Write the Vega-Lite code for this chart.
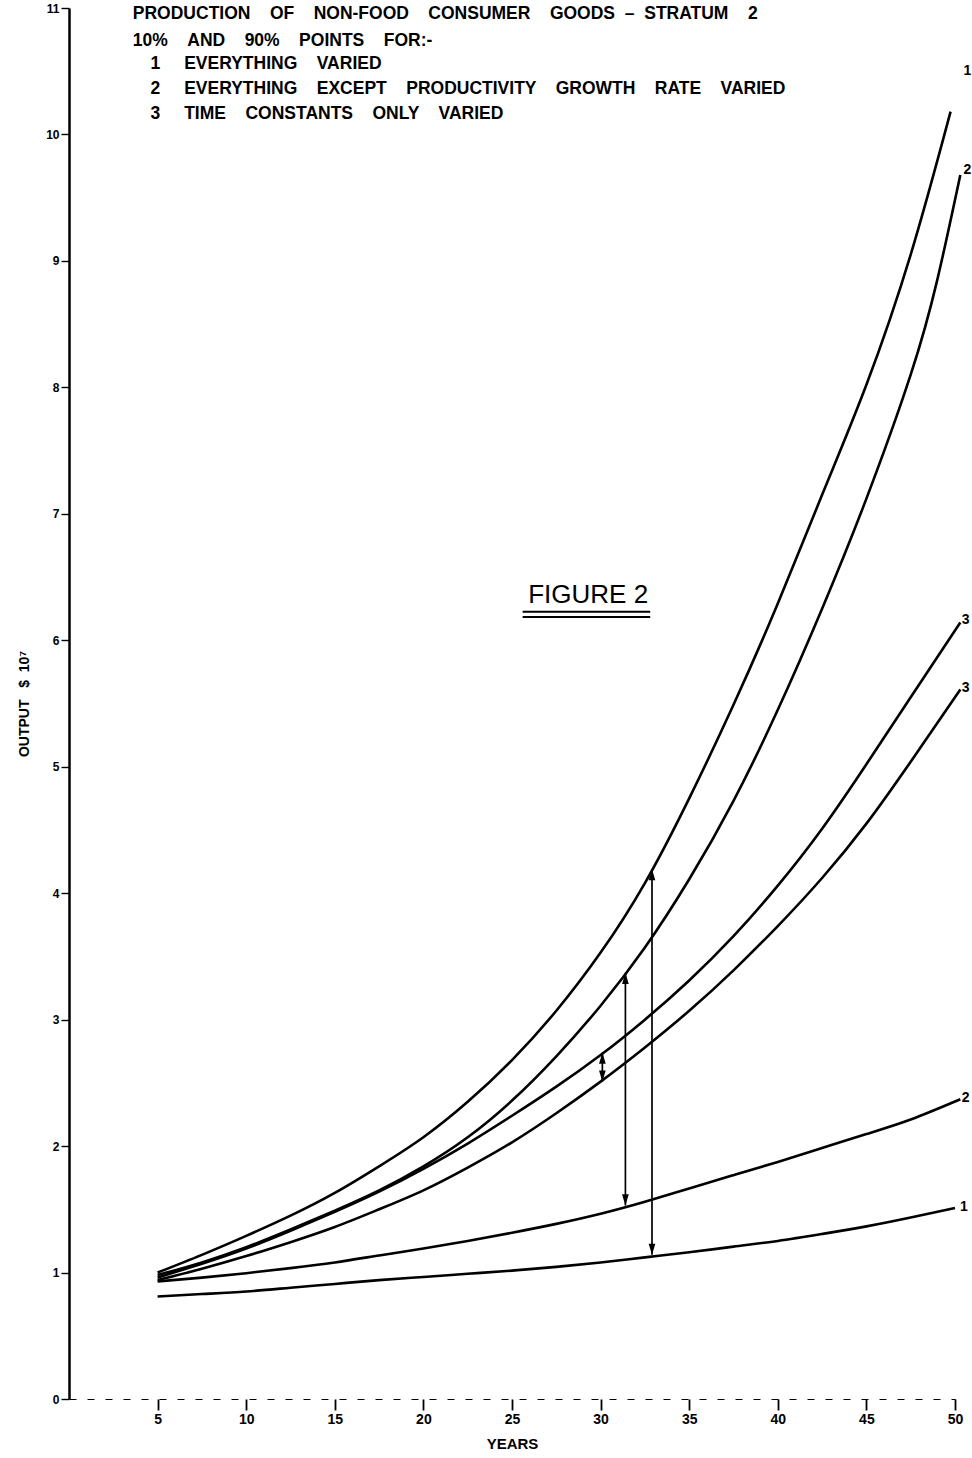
{
  "$schema": "https://vega.github.io/schema/vega-lite/v6.json",
  "width": 886,
  "height": 1391,
  "autosize": {"type": "none"},
  "padding": {"left": 69, "top": 8, "right": 17, "bottom": 59},
  "background": "white",
  "config": {
    "view": {"stroke": null},
    "font": "Liberation Sans",
    "text": {"font": "Liberation Sans"}
  },
  "datasets": {
    "curves": [
      {"series": "U1", "year": 5, "value": 1.0},
      {"series": "U1", "year": 7.5, "value": 1.14},
      {"series": "U1", "year": 10, "value": 1.29},
      {"series": "U1", "year": 12.5, "value": 1.45},
      {"series": "U1", "year": 15, "value": 1.63},
      {"series": "U1", "year": 17.5, "value": 1.84},
      {"series": "U1", "year": 20, "value": 2.07},
      {"series": "U1", "year": 22.5, "value": 2.35},
      {"series": "U1", "year": 25, "value": 2.68},
      {"series": "U1", "year": 27.5, "value": 3.07},
      {"series": "U1", "year": 30, "value": 3.53},
      {"series": "U1", "year": 32.5, "value": 4.08},
      {"series": "U1", "year": 35, "value": 4.75},
      {"series": "U1", "year": 37.5, "value": 5.49},
      {"series": "U1", "year": 40, "value": 6.29},
      {"series": "U1", "year": 42.5, "value": 7.15},
      {"series": "U1", "year": 45, "value": 8.02},
      {"series": "U1", "year": 47.5, "value": 9.05},
      {"series": "U1", "year": 49.75, "value": 10.18},

      {"series": "U2", "year": 5, "value": 0.98},
      {"series": "U2", "year": 7.5, "value": 1.08},
      {"series": "U2", "year": 10, "value": 1.2},
      {"series": "U2", "year": 12.5, "value": 1.34},
      {"series": "U2", "year": 15, "value": 1.49},
      {"series": "U2", "year": 17.5, "value": 1.65},
      {"series": "U2", "year": 20, "value": 1.84},
      {"series": "U2", "year": 22.5, "value": 2.07},
      {"series": "U2", "year": 25, "value": 2.36},
      {"series": "U2", "year": 27.5, "value": 2.71},
      {"series": "U2", "year": 30, "value": 3.11},
      {"series": "U2", "year": 32.5, "value": 3.57},
      {"series": "U2", "year": 35, "value": 4.11},
      {"series": "U2", "year": 37.5, "value": 4.73},
      {"series": "U2", "year": 40, "value": 5.45},
      {"series": "U2", "year": 42.5, "value": 6.25},
      {"series": "U2", "year": 45, "value": 7.12},
      {"series": "U2", "year": 47.5, "value": 8.1},
      {"series": "U2", "year": 49, "value": 8.85},
      {"series": "U2", "year": 50.3, "value": 9.68},

      {"series": "U3", "year": 5, "value": 0.96},
      {"series": "U3", "year": 7.5, "value": 1.07},
      {"series": "U3", "year": 10, "value": 1.19},
      {"series": "U3", "year": 12.5, "value": 1.33},
      {"series": "U3", "year": 15, "value": 1.48},
      {"series": "U3", "year": 17.5, "value": 1.64},
      {"series": "U3", "year": 20, "value": 1.82},
      {"series": "U3", "year": 22.5, "value": 2.02},
      {"series": "U3", "year": 25, "value": 2.24},
      {"series": "U3", "year": 27.5, "value": 2.47},
      {"series": "U3", "year": 30, "value": 2.72},
      {"series": "U3", "year": 32.5, "value": 3.0},
      {"series": "U3", "year": 35, "value": 3.31},
      {"series": "U3", "year": 37.5, "value": 3.66},
      {"series": "U3", "year": 40, "value": 4.06},
      {"series": "U3", "year": 42.5, "value": 4.51},
      {"series": "U3", "year": 45, "value": 5.02},
      {"series": "U3", "year": 47.5, "value": 5.55},
      {"series": "U3", "year": 50.3, "value": 6.14},

      {"series": "L3", "year": 5, "value": 0.94},
      {"series": "L3", "year": 7.5, "value": 1.03},
      {"series": "L3", "year": 10, "value": 1.13},
      {"series": "L3", "year": 12.5, "value": 1.24},
      {"series": "L3", "year": 15, "value": 1.36},
      {"series": "L3", "year": 17.5, "value": 1.5},
      {"series": "L3", "year": 20, "value": 1.65},
      {"series": "L3", "year": 22.5, "value": 1.83},
      {"series": "L3", "year": 25, "value": 2.03},
      {"series": "L3", "year": 27.5, "value": 2.26},
      {"series": "L3", "year": 30, "value": 2.51},
      {"series": "L3", "year": 32.5, "value": 2.78},
      {"series": "L3", "year": 35, "value": 3.07},
      {"series": "L3", "year": 37.5, "value": 3.39},
      {"series": "L3", "year": 40, "value": 3.74},
      {"series": "L3", "year": 42.5, "value": 4.12},
      {"series": "L3", "year": 45, "value": 4.55},
      {"series": "L3", "year": 47.5, "value": 5.04},
      {"series": "L3", "year": 50.3, "value": 5.61},

      {"series": "L2", "year": 5, "value": 0.93},
      {"series": "L2", "year": 7.5, "value": 0.96},
      {"series": "L2", "year": 10, "value": 0.995},
      {"series": "L2", "year": 12.5, "value": 1.035},
      {"series": "L2", "year": 15, "value": 1.08},
      {"series": "L2", "year": 17.5, "value": 1.135},
      {"series": "L2", "year": 20, "value": 1.19},
      {"series": "L2", "year": 22.5, "value": 1.25},
      {"series": "L2", "year": 25, "value": 1.315},
      {"series": "L2", "year": 27.5, "value": 1.385},
      {"series": "L2", "year": 30, "value": 1.465},
      {"series": "L2", "year": 32.5, "value": 1.56},
      {"series": "L2", "year": 35, "value": 1.665},
      {"series": "L2", "year": 37.5, "value": 1.77},
      {"series": "L2", "year": 40, "value": 1.875},
      {"series": "L2", "year": 42.5, "value": 1.985},
      {"series": "L2", "year": 45, "value": 2.095},
      {"series": "L2", "year": 47.5, "value": 2.21},
      {"series": "L2", "year": 50.3, "value": 2.37},

      {"series": "L1", "year": 5, "value": 0.81},
      {"series": "L1", "year": 7.5, "value": 0.83},
      {"series": "L1", "year": 10, "value": 0.85},
      {"series": "L1", "year": 12.5, "value": 0.88},
      {"series": "L1", "year": 15, "value": 0.91},
      {"series": "L1", "year": 17.5, "value": 0.94},
      {"series": "L1", "year": 20, "value": 0.965},
      {"series": "L1", "year": 22.5, "value": 0.99},
      {"series": "L1", "year": 25, "value": 1.015},
      {"series": "L1", "year": 27.5, "value": 1.045},
      {"series": "L1", "year": 30, "value": 1.08},
      {"series": "L1", "year": 32.5, "value": 1.12},
      {"series": "L1", "year": 35, "value": 1.16},
      {"series": "L1", "year": 37.5, "value": 1.205},
      {"series": "L1", "year": 40, "value": 1.25},
      {"series": "L1", "year": 42.5, "value": 1.305},
      {"series": "L1", "year": 45, "value": 1.365},
      {"series": "L1", "year": 47.5, "value": 1.435},
      {"series": "L1", "year": 50, "value": 1.51}
    ],
    "arrows": [
      {"year": 32.9, "lo": 1.14, "hi": 4.19},
      {"year": 31.4, "lo": 1.53, "hi": 3.37},
      {"year": 30.1, "lo": 2.51, "hi": 2.74}
    ],
    "curveLabels": [
      {"year": 50.7, "value": 10.5, "label": "1"},
      {"year": 50.7, "value": 9.72, "label": "2"},
      {"year": 50.6, "value": 6.16, "label": "3"},
      {"year": 50.6, "value": 5.62, "label": "3"},
      {"year": 50.6, "value": 2.38, "label": "2"},
      {"year": 50.5, "value": 1.52, "label": "1"}
    ],
    "notes": [
      {"year": 3.6, "value": 10.95, "label": "PRODUCTION \u00a0\u00a0\u00a0OF \u00a0\u00a0\u00a0NON-FOOD \u00a0\u00a0\u00a0CONSUMER \u00a0\u00a0\u00a0GOODS \u00a0– \u00a0STRATUM \u00a0\u00a0\u00a02"},
      {"year": 3.6, "value": 10.74, "label": "10% \u00a0\u00a0\u00a0AND \u00a0\u00a0\u00a090% \u00a0\u00a0\u00a0POINTS \u00a0\u00a0\u00a0FOR:-"},
      {"year": 4.6, "value": 10.56, "label": "1"},
      {"year": 6.5, "value": 10.56, "label": "EVERYTHING \u00a0\u00a0\u00a0VARIED"},
      {"year": 4.6, "value": 10.36, "label": "2"},
      {"year": 6.5, "value": 10.36, "label": "EVERYTHING \u00a0\u00a0\u00a0EXCEPT \u00a0\u00a0\u00a0PRODUCTIVITY \u00a0\u00a0\u00a0GROWTH \u00a0\u00a0\u00a0RATE \u00a0\u00a0\u00a0VARIED"},
      {"year": 4.6, "value": 10.16, "label": "3"},
      {"year": 6.5, "value": 10.16, "label": "TIME \u00a0\u00a0\u00a0CONSTANTS \u00a0\u00a0\u00a0ONLY \u00a0\u00a0\u00a0VARIED"}
    ],
    "figure": [
      {"year": 29.3, "value": 6.36, "label": "FIGURE 2"}
    ],
    "underline": [
      {"from": 25.6, "to": 32.8, "value": 6.225},
      {"from": 25.6, "to": 32.8, "value": 6.185}
    ]
  },
  "layer": [
    {
      "data": {"name": "curves"},
      "mark": {"type": "line", "color": "black", "strokeWidth": 2.6, "interpolate": "natural"},
      "encoding": {
        "x": {
          "field": "year", "type": "quantitative",
          "scale": {"domain": [0, 50], "nice": false, "zero": false},
          "axis": {
            "values": [5, 10, 15, 20, 25, 30, 35, 40, 45, 50],
            "format": "d",
            "title": "YEARS",
            "titleFont": "Liberation Sans", "titleFontSize": 15, "titleFontWeight": "bold", "titleColor": "black",
            "titlePadding": 10,
            "labelFont": "Liberation Sans", "labelFontSize": 14, "labelFontWeight": "bold", "labelColor": "black",
            "labelPadding": 2, "labelFlush": false,
            "tickSize": 11, "tickWidth": 1.8, "tickColor": "black",
            "domainColor": "black", "domainWidth": 1, "domainDash": [7, 11],
            "grid": false
          }
        },
        "y": {
          "field": "value", "type": "quantitative",
          "scale": {"domain": [0, 11], "nice": false, "zero": false},
          "axis": {
            "values": [0, 1, 2, 3, 4, 5, 6, 7, 8, 9, 10, 11],
            "format": "d",
            "title": "OUTPUT \u00a0\u00a0$ \u00a010⁷",
            "titleFont": "Liberation Sans", "titleFontSize": 14, "titleFontWeight": "bold", "titleColor": "black",
            "titlePadding": 14,
            "labelFont": "Liberation Sans", "labelFontSize": 12, "labelFontWeight": "bold", "labelColor": "black",
            "labelPadding": 2, "labelFlush": false,
            "tickSize": 8, "tickWidth": 1.4, "tickColor": "black",
            "domainColor": "black", "domainWidth": 2.5,
            "grid": false
          }
        },
        "detail": {"field": "series"}
      }
    },
    {
      "data": {"name": "arrows"},
      "mark": {"type": "rule", "color": "black", "strokeWidth": 1.7},
      "encoding": {
        "x": {"field": "year", "type": "quantitative"},
        "y": {"field": "lo", "type": "quantitative"},
        "y2": {"field": "hi"}
      }
    },
    {
      "data": {"name": "arrows"},
      "mark": {"type": "point", "shape": "M0,0L-0.3,1L0.3,1Z", "filled": true, "color": "black", "opacity": 1, "size": 500},
      "encoding": {
        "x": {"field": "year", "type": "quantitative"},
        "y": {"field": "hi", "type": "quantitative"}
      }
    },
    {
      "data": {"name": "arrows"},
      "mark": {"type": "point", "shape": "M0,0L-0.3,-1L0.3,-1Z", "filled": true, "color": "black", "opacity": 1, "size": 500},
      "encoding": {
        "x": {"field": "year", "type": "quantitative"},
        "y": {"field": "lo", "type": "quantitative"}
      }
    },
    {
      "data": {"name": "curveLabels"},
      "mark": {"type": "text", "font": "Liberation Sans", "fontWeight": "bold", "fontSize": 14, "align": "center", "baseline": "middle", "color": "black"},
      "encoding": {
        "x": {"field": "year", "type": "quantitative"},
        "y": {"field": "value", "type": "quantitative"},
        "text": {"field": "label"}
      }
    },
    {
      "data": {"name": "notes"},
      "mark": {"type": "text", "font": "Liberation Sans", "fontWeight": "bold", "fontSize": 17.5, "align": "left", "baseline": "middle", "color": "black"},
      "encoding": {
        "x": {"field": "year", "type": "quantitative"},
        "y": {"field": "value", "type": "quantitative"},
        "text": {"field": "label"}
      }
    },
    {
      "data": {"name": "figure"},
      "mark": {"type": "text", "font": "Liberation Sans", "fontWeight": "normal", "fontSize": 26, "align": "center", "baseline": "middle", "color": "black"},
      "encoding": {
        "x": {"field": "year", "type": "quantitative"},
        "y": {"field": "value", "type": "quantitative"},
        "text": {"field": "label"}
      }
    },
    {
      "data": {"name": "underline"},
      "mark": {"type": "rule", "color": "black", "strokeWidth": 2},
      "encoding": {
        "x": {"field": "from", "type": "quantitative"},
        "x2": {"field": "to"},
        "y": {"field": "value", "type": "quantitative"}
      }
    }
  ]
}
